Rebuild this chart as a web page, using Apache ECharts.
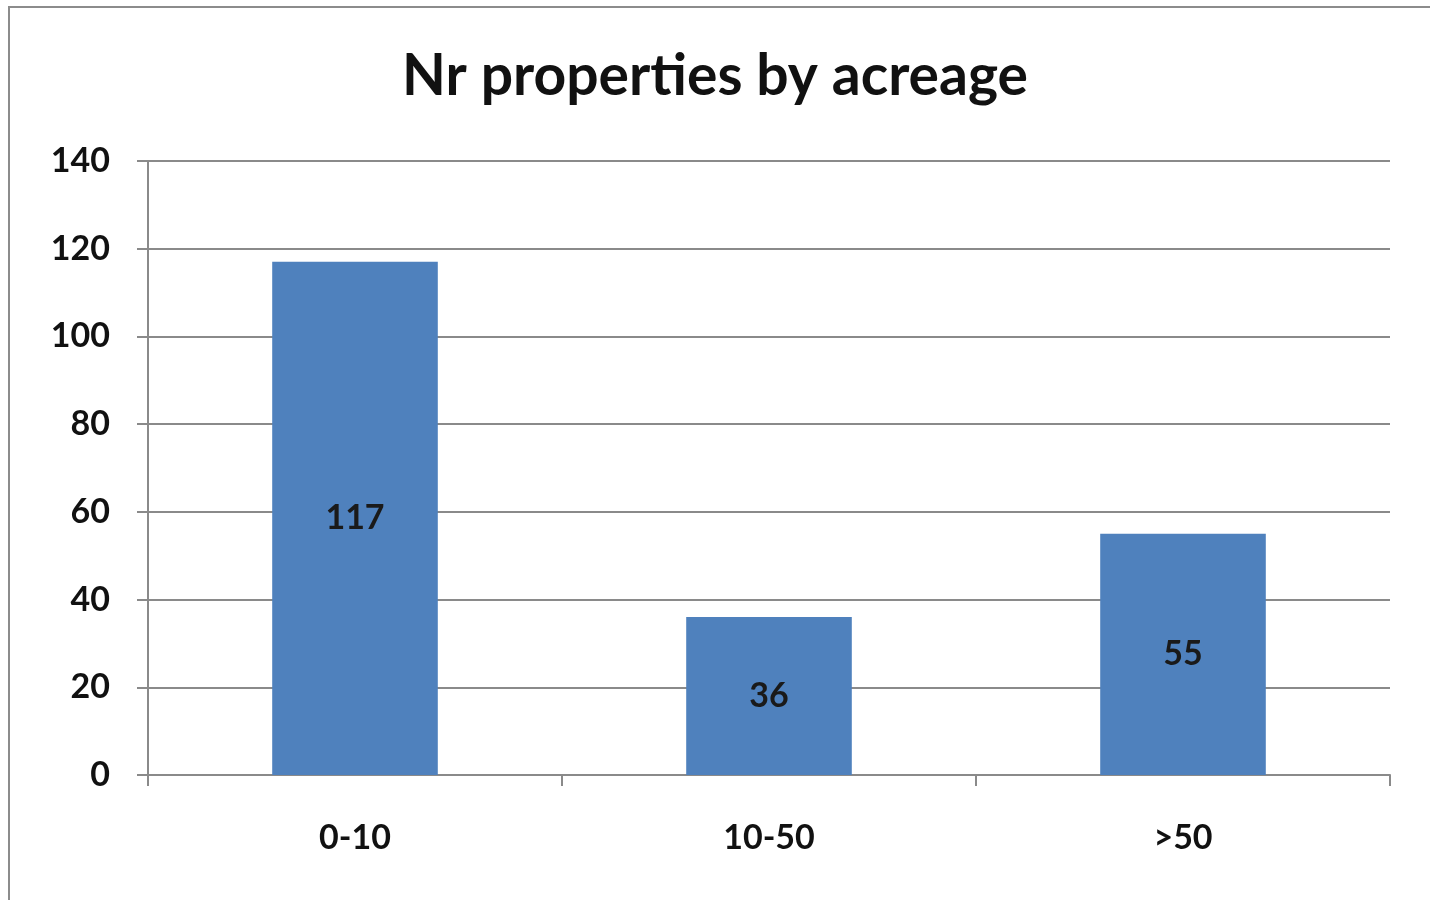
<!DOCTYPE html>
<html>
<head>
<meta charset="utf-8">
<script src="https://cdn.jsdelivr.net/npm/echarts@6/dist/echarts.min.js"></script>
<style>
  html, body { margin: 0; padding: 0; background: #fff; }
  #chart { width: 1430px; height: 900px; }
</style>
</head>
<body>
<div id="chart"></div>
<script>
var categories = ['0-10', '10-50', '>50'];
var counts = [117, 36, 55];
var yTicks = { min: 0, max: 140, step: 20 };

var chart = echarts.init(document.getElementById('chart'));

var font = 'Lato, "Open Sans", sans-serif';
var gridColor = '#8a8a8a';

var option = {
  backgroundColor: '#fff',
  animation: false,
  title: {
    text: 'Nr properties by acreage',
    left: 'center',
    top: 43,
    textStyle: { fontFamily: font, fontWeight: 'bold', fontSize: 57, color: '#111' }
  },
  graphic: [{
    type: 'rect',
    shape: { x: 9, y: 7, width: 1440, height: 900 },
    style: { fill: 'none', stroke: '#8c8c8c', lineWidth: 2 },
    silent: true
  }],
  grid: { left: 148, right: 40, top: 161, bottom: 125 },
  xAxis: {
    type: 'category',
    data: categories,
    boundaryGap: true,
    axisLine: { lineStyle: { color: gridColor, width: 2 } },
    axisTick: { show: true, length: 11, lineStyle: { color: gridColor, width: 2 } },
    axisLabel: { margin: 46, fontFamily: font, fontWeight: 'bold', fontSize: 34, color: '#111' }
  },
  yAxis: {
    type: 'value',
    min: yTicks.min,
    max: yTicks.max,
    interval: yTicks.step,
    axisLine: { show: true, lineStyle: { color: gridColor, width: 2 } },
    axisTick: { show: true, length: 11, lineStyle: { color: gridColor, width: 2 } },
    splitLine: { lineStyle: { color: gridColor, width: 2 } },
    axisLabel: { margin: 38, fontFamily: font, fontWeight: 'bold', fontSize: 34, color: '#111' }
  },
  series: [{
    type: 'bar',
    data: counts,
    barWidth: '40%',
    itemStyle: { color: '#4f81bd' },
    label: {
      show: true,
      position: 'inside',
      fontFamily: font,
      fontWeight: 'bold',
      fontSize: 34,
      color: '#1a1a1a'
    }
  }]
};

chart.setOption(option);
</script>
</body>
</html>
